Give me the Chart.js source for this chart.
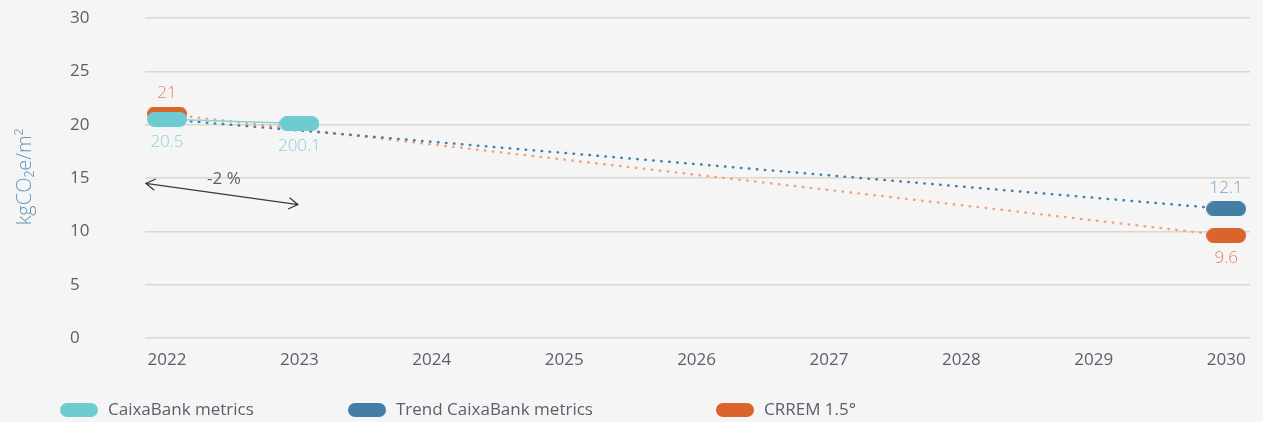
<!DOCTYPE html>
<html>
<head>
<meta charset="utf-8">
<script src="https://cdn.jsdelivr.net/npm/chart.js@4/dist/chart.umd.min.js"></script>
<style>
  html, body { margin: 0; padding: 0; background: #f5f5f5; }
  #wrap { width: 1263px; height: 422px; }
</style>
</head>
<body>
<div id="wrap"><canvas id="chart" width="1263" height="422"></canvas></div>
<script>
// Ejes
const years = [2022, 2023, 2024, 2025, 2026, 2027, 2028, 2029, 2030];
const yTicks = [0, 5, 10, 15, 20, 25, 30];

// Series
const metricsYears = [2022, 2023];
const metricsValues = [20.5, 20.1];
const metricsLabels = ['20.5', '200.1'];

const trendYears = [2022, 2030];
const trendValues = [20.5, 12.1];
const trendLabels = [null, '12.1'];

const crremYears = [2022, 2030];
const crremValues = [21, 9.6];
const crremLabels = ['21', '9.6'];

const changeText = '-2 %';

const FONT = "'Open Sans', 'Noto Sans', sans-serif";
const TEXT = '#5a606a';
const TEAL = '#6dcbd2';
const BLUE = '#437ea4';
const ORANGE = '#da642b';

// Marcador en forma de píldora
const pill = (color, w, h) => {
    const c = document.createElement('canvas');
    c.width = w;
    c.height = h;
    const g = c.getContext('2d');
    g.fillStyle = color;
    g.beginPath();
    g.roundRect(0, 0, w, h, h / 2);
    g.fill();
    return c;
};

const toPoints = (xs, ys) => xs.map((x, i) => ({ x, y: ys[i] }));

// Fondo, etiquetas de valores, flecha, título del eje y leyenda
const decorations = {
    id: 'decorations',
    beforeDraw(chart) {
        const ctx = chart.ctx;
        ctx.save();
        ctx.fillStyle = '#f5f5f5';
        ctx.fillRect(0, 0, chart.width, chart.height);
        ctx.restore();
    },
    afterDraw(chart) {
        const ctx = chart.ctx;
        const xs = chart.scales.x;
        const ys = chart.scales.y;
        ctx.save();

        // Etiquetas de valores
        ctx.font = `300 17px ${FONT}`;
        ctx.textAlign = 'center';
        ctx.textBaseline = 'middle';
        chart.data.datasets.forEach((ds, di) => {
            const meta = chart.getDatasetMeta(di);
            ds.valueLabels.forEach((txt, i) => {
                if (!txt) return;
                const p = meta.data[i];
                const dy = ds.labelSide[i] === 'above' ? -21 : 23;
                ctx.fillStyle = ds.labelColor;
                ctx.fillText(txt, p.x, p.y + dy);
            });
        });

        // Flecha de variación
        const a = arrow;
        const x1 = xs.getPixelForValue(a.from[0]), y1 = ys.getPixelForValue(a.from[1]);
        const x2 = xs.getPixelForValue(a.to[0]), y2 = ys.getPixelForValue(a.to[1]);
        ctx.strokeStyle = '#3a3a3a';
        ctx.lineWidth = 1.2;
        ctx.beginPath();
        ctx.moveTo(x1, y1);
        ctx.lineTo(x2, y2);
        const ang = Math.atan2(y2 - y1, x2 - x1);
        const head = (x, y, dir) => {
            const l = 11, w = 0.55;
            ctx.moveTo(x + dir * l * Math.cos(ang - w), y + dir * l * Math.sin(ang - w));
            ctx.lineTo(x, y);
            ctx.lineTo(x + dir * l * Math.cos(ang + w), y + dir * l * Math.sin(ang + w));
        };
        head(x1, y1, 1);
        head(x2, y2, -1);
        ctx.stroke();
        ctx.fillStyle = TEXT;
        ctx.font = `17px ${FONT}`;
        ctx.fillText(changeText, (x1 + x2) / 2 + 2, y1 - 4);

        // Título del eje Y
        ctx.save();
        ctx.translate(25, 177);
        ctx.rotate(-Math.PI / 2);
        ctx.fillStyle = '#6497ba';
        ctx.font = `300 20px ${FONT}`;
        ctx.fillText('kgCO₂e/m²', 0, 0);
        ctx.restore();

        // Leyenda
        const legendX = [60, 348, 716];
        ctx.textAlign = 'left';
        ctx.font = `17px ${FONT}`;
        chart.data.datasets.forEach((ds, di) => {
            const lx = legendX[di];
            ctx.drawImage(ds.swatch, lx, 403);
            ctx.fillStyle = TEXT;
            ctx.fillText(ds.label, lx + 48, 410);
        });
        ctx.restore();
    }
};

const arrow = { from: [2021.84, 14.5], to: [2022.99, 12.5] };

const chart = new Chart(document.getElementById('chart'), {
    type: 'line',
    data: {
        datasets: [
            {
                label: 'CaixaBank metrics',
                data: toPoints(metricsYears, metricsValues),
                borderColor: '#86d4d9',
                borderWidth: 1.5,
                pointStyle: pill(TEAL, 40, 15),
                pointRadius: 6,
                valueLabels: metricsLabels,
                labelSide: ['below', 'below'],
                labelColor: '#86d2d8',
                swatch: pill(TEAL, 38, 14)
            },
            {
                label: 'Trend CaixaBank metrics',
                data: toPoints(trendYears, trendValues),
                borderColor: BLUE,
                borderWidth: 2.5,
                borderDash: [0.5, 7.5],
                borderCapStyle: 'round',
                pointStyle: pill(BLUE, 40, 15),
                pointRadius: [0, 6],
                valueLabels: trendLabels,
                labelSide: ['above', 'above'],
                labelColor: '#779fbf',
                swatch: pill(BLUE, 38, 14)
            },
            {
                label: 'CRREM 1.5°',
                data: toPoints(crremYears, crremValues),
                borderColor: '#f2a27f',
                borderWidth: 2.5,
                borderDash: [0.5, 7.5],
                borderCapStyle: 'round',
                pointStyle: pill(ORANGE, 40, 15),
                pointRadius: 6,
                valueLabels: crremLabels,
                labelSide: ['above', 'below'],
                labelColor: '#e3875c',
                swatch: pill(ORANGE, 38, 14)
            }
        ]
    },
    options: {
        responsive: false,
        animation: false,
        devicePixelRatio: 1,
        layout: { padding: { left: 70, top: 18, right: 13, bottom: 54 } },
        plugins: { legend: { display: false }, tooltip: { enabled: false } },
        scales: {
            x: {
                type: 'linear',
                min: 2021.834,
                max: 2030.18,
                afterBuildTicks: (scale) => { scale.ticks = years.map(v => ({ value: v })); },
                afterFit: (scale) => { scale.height = 30; },
                grid: { display: false },
                border: { display: false },
                ticks: {
                    callback: (v) => String(v),
                    color: TEXT,
                    font: { family: FONT, size: 17, weight: 400 },
                    padding: 4,
                    maxRotation: 0
                }
            },
            y: {
                min: 0,
                max: 30,
                afterBuildTicks: (scale) => { scale.ticks = yTicks.map(v => ({ value: v })); },
                afterFit: (scale) => { scale.width = 75; },
                grid: { color: '#ddd6cb', lineWidth: 1.5, drawTicks: false },
                border: { display: false },
                ticks: {
                    crossAlign: 'far',
                    color: TEXT,
                    font: { family: FONT, size: 17, weight: 400 }
                }
            }
        }
    },
    plugins: [decorations]
});
</script>
</body>
</html>
